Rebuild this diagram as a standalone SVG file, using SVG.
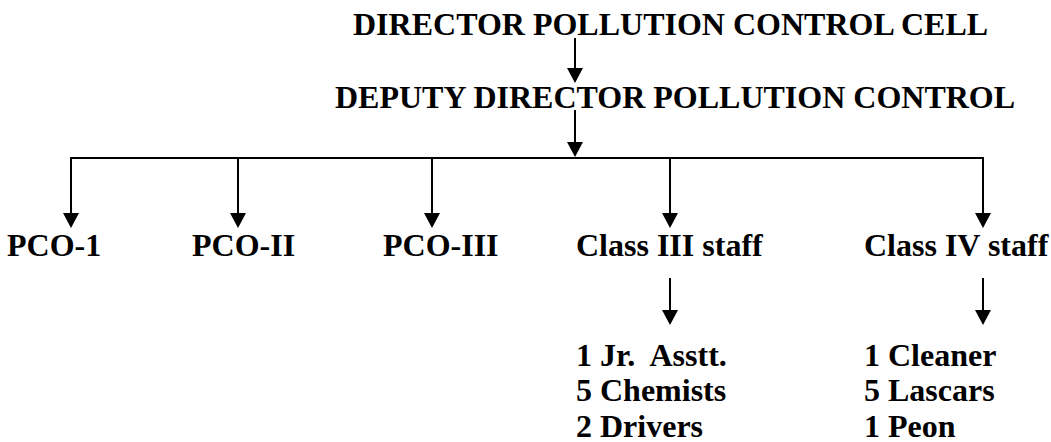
<svg xmlns="http://www.w3.org/2000/svg" width="1051" height="442" viewBox="0 0 1051 442">
  <style>
    text { font-family: 'Liberation Serif', 'Times New Roman', serif; font-weight: 700; font-size: 32px; fill: #000; white-space: pre; }
    .c { stroke: #000; stroke-width: 2; fill: none; }
    .a { marker-end: url(#head); }
  </style>
  <defs>
    <!-- solid triangular arrowhead; its base sits at the end of each line -->
    <marker id="head" viewBox="0 0 15 16" markerWidth="15" markerHeight="16" refX="0" refY="8" orient="auto" markerUnits="userSpaceOnUse">
      <path d="M0,0 L15,8 L0,16 Z" fill="#000"/>
    </marker>
  </defs>
  <rect width="1051" height="442" fill="#fff"/>

  <g id="connectors">
    <line class="c a" x1="575" y1="38" x2="575" y2="68"/>
    <line class="c a" x1="575" y1="110" x2="575" y2="142"/>
    <line class="c" x1="70" y1="158" x2="984" y2="158"/>
    <line class="c a" x1="71" y1="157" x2="71" y2="213"/>
    <line class="c a" x1="238" y1="157" x2="238" y2="213"/>
    <line class="c a" x1="432" y1="157" x2="432" y2="213"/>
    <line class="c a" x1="670" y1="157" x2="670" y2="213"/>
    <line class="c a" x1="983" y1="157" x2="983" y2="213"/>
    <line class="c a" x1="670" y1="278" x2="670" y2="310"/>
    <line class="c a" x1="983" y1="278" x2="983" y2="310"/>
  </g>

  <g id="director"><text x="353" y="35">DIRECTOR POLLUTION CONTROL CELL</text></g>
  <g id="deputy"><text x="335" y="108">DEPUTY DIRECTOR POLLUTION CONTROL</text></g>
  <g id="pco1"><text x="7" y="256">PCO-1</text></g>
  <g id="pco2"><text x="192" y="256">PCO-II</text></g>
  <g id="pco3"><text x="383" y="256">PCO-III</text></g>
  <g id="class3"><text x="576" y="256">Class III staff</text></g>
  <g id="class4"><text x="864" y="256">Class IV staff</text></g>
  <g id="class3-list">
    <text x="576" y="366">1 Jr.  Asstt.</text>
    <text x="576" y="401">5 Chemists</text>
    <text x="576" y="437">2 Drivers</text>
  </g>
  <g id="class4-list">
    <text x="864" y="366">1 Cleaner</text>
    <text x="864" y="401">5 Lascars</text>
    <text x="864" y="437">1 Peon</text>
  </g>
</svg>
